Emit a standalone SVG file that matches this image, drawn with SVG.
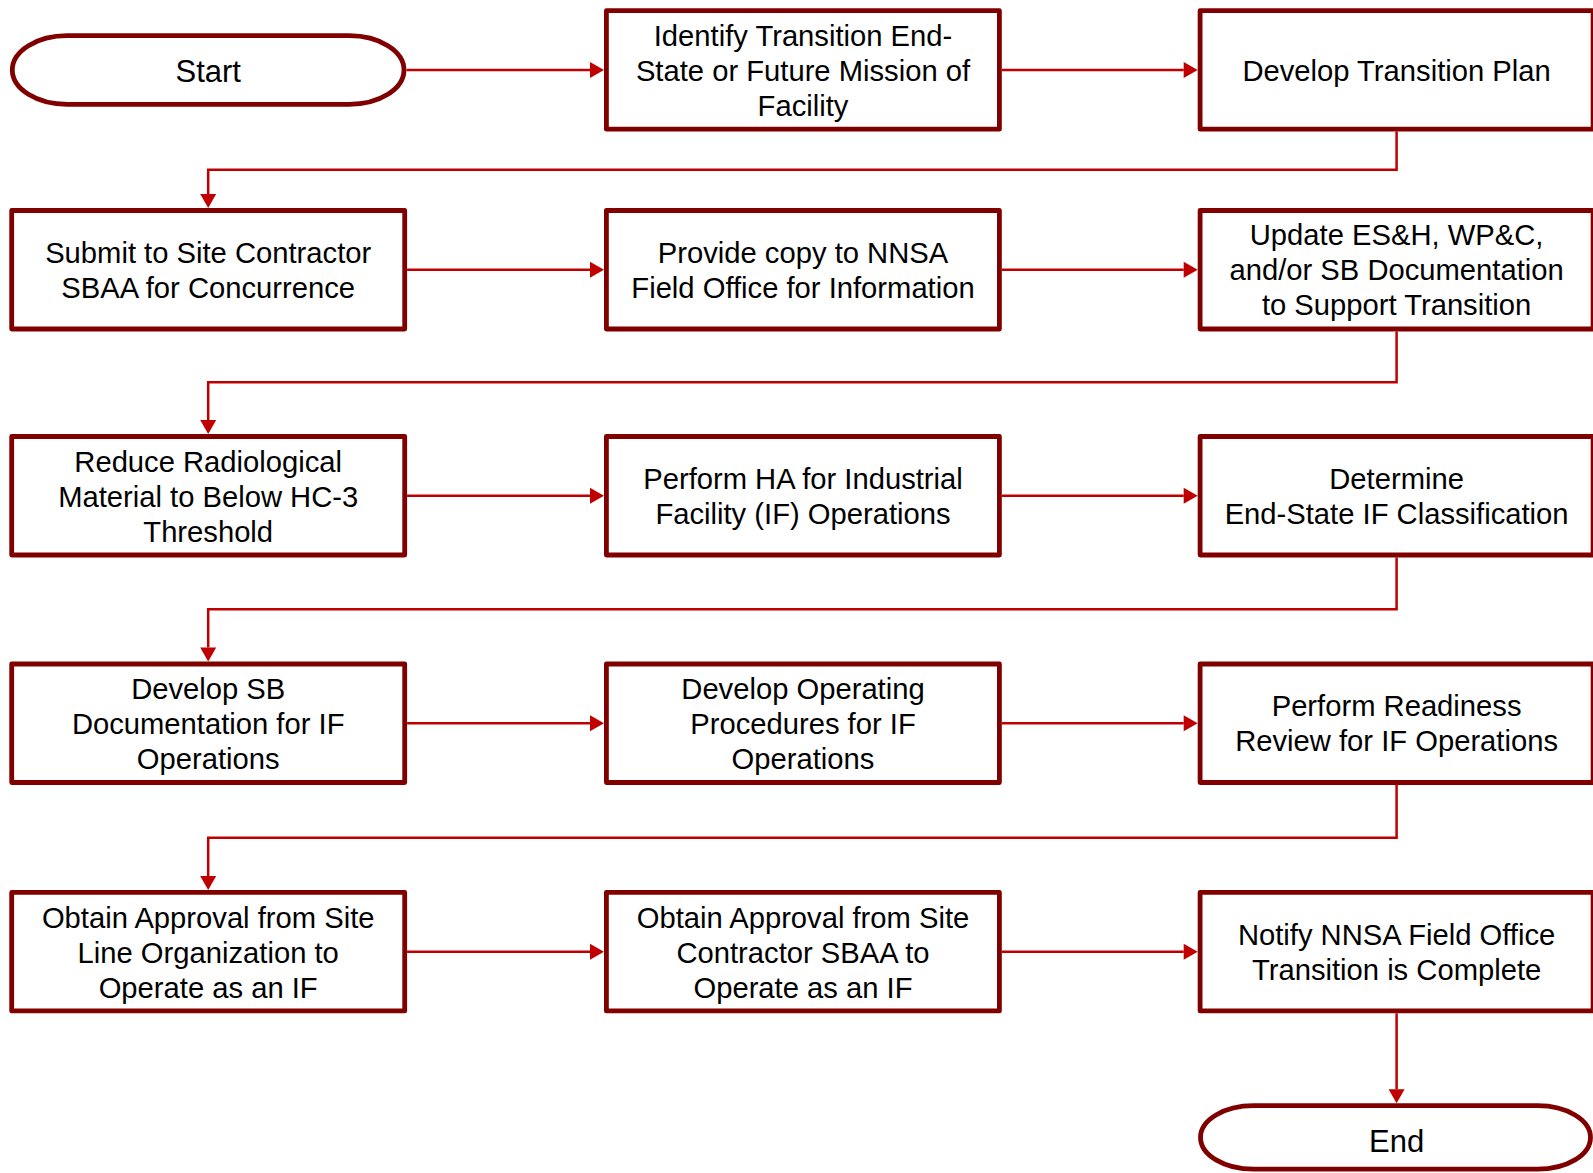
<svg xmlns="http://www.w3.org/2000/svg" width="1593" height="1173" viewBox="0 0 1593 1173">
<style>
.box{fill:#fff;stroke:#800000;stroke-width:4.8;stroke-linejoin:round}
.t{font-family:"Liberation Sans",Arial,sans-serif;font-size:29.2px;fill:#000;text-anchor:middle}
.tt{font-family:"Liberation Sans",Arial,sans-serif;font-size:31px;fill:#000;text-anchor:middle}
.c{fill:none;stroke:#C00000;stroke-width:2.5}
</style>
<defs>
<marker id="ah" markerUnits="userSpaceOnUse" markerWidth="14" markerHeight="16" refX="0" refY="8" orient="auto" overflow="visible">
<path d="M0,0 L14,8 L0,16 z" fill="#C00000"/>
</marker>
</defs>
<rect width="1593" height="1173" fill="#fff"/>
<g id="connectors">
<path class="c" d="M406.5,70 H590" marker-end="url(#ah)"/>
<path class="c" d="M1001.8,70 H1183.7" marker-end="url(#ah)"/>
<path class="c" d="M1396.6,131.6 V169.7 H208.2 V194.1" marker-end="url(#ah)"/>
<path class="c" d="M407.1,269.8 H590" marker-end="url(#ah)"/>
<path class="c" d="M1001.8,269.8 H1183.7" marker-end="url(#ah)"/>
<path class="c" d="M1396.6,331.4 V382.3 H208.2 V420.1" marker-end="url(#ah)"/>
<path class="c" d="M407.1,495.8 H590" marker-end="url(#ah)"/>
<path class="c" d="M1001.8,495.8 H1183.7" marker-end="url(#ah)"/>
<path class="c" d="M1396.6,557.4 V609.3 H208.2 V647.6" marker-end="url(#ah)"/>
<path class="c" d="M407.1,723.3 H590" marker-end="url(#ah)"/>
<path class="c" d="M1001.8,723.3 H1183.7" marker-end="url(#ah)"/>
<path class="c" d="M1396.6,784.9 V837.7 H208.2 V876" marker-end="url(#ah)"/>
<path class="c" d="M407.1,951.7 H590" marker-end="url(#ah)"/>
<path class="c" d="M1001.8,951.7 H1183.7" marker-end="url(#ah)"/>
<path class="c" d="M1396.6,1013.3 V1089.3" marker-end="url(#ah)"/>
</g>
<g id="start">
<rect class="box" x="12.3" y="35.7" width="391.7" height="68.6" rx="55" ry="34.3"/>
<text class="tt" x="208.2" y="81.5">Start</text>
</g>
<g id="identify">
<rect class="box" x="606.4" y="10.7" width="393" height="118.5"/>
<text class="t" x="803" y="46.3">Identify Transition End-</text>
<text class="t" x="803" y="81.3">State or Future Mission of</text>
<text class="t" x="803" y="116.3">Facility</text>
</g>
<g id="develop-plan">
<rect class="box" x="1200.1" y="10.7" width="393" height="118.5"/>
<text class="t" x="1396.6" y="80.8">Develop Transition Plan</text>
</g>
<g id="submit">
<rect class="box" x="11.7" y="210.5" width="393" height="118.5"/>
<text class="t" x="208.2" y="263.3">Submit to Site Contractor</text>
<text class="t" x="208.2" y="298.3">SBAA for Concurrence</text>
</g>
<g id="provide">
<rect class="box" x="606.4" y="210.5" width="393" height="118.5"/>
<text class="t" x="803" y="263.3">Provide copy to NNSA</text>
<text class="t" x="803" y="298.3">Field Office for Information</text>
</g>
<g id="update">
<rect class="box" x="1200.1" y="210.5" width="393" height="118.5"/>
<text class="t" x="1396.6" y="245.3">Update ES&amp;H, WP&amp;C,</text>
<text class="t" x="1396.6" y="280.3">and/or SB Documentation</text>
<text class="t" x="1396.6" y="315.3">to Support Transition</text>
</g>
<g id="reduce">
<rect class="box" x="11.7" y="436.5" width="393" height="118.5"/>
<text class="t" x="208.2" y="471.6">Reduce Radiological</text>
<text class="t" x="208.2" y="506.6">Material to Below HC-3</text>
<text class="t" x="208.2" y="541.6">Threshold</text>
</g>
<g id="perform-ha">
<rect class="box" x="606.4" y="436.5" width="393" height="118.5"/>
<text class="t" x="803" y="488.6">Perform HA for Industrial</text>
<text class="t" x="803" y="523.6">Facility (IF) Operations</text>
</g>
<g id="determine">
<rect class="box" x="1200.1" y="436.5" width="393" height="118.5"/>
<text class="t" x="1396.6" y="488.6">Determine</text>
<text class="t" x="1396.6" y="523.6">End-State IF Classification</text>
</g>
<g id="develop-sb">
<rect class="box" x="11.7" y="664" width="393" height="118.5"/>
<text class="t" x="208.2" y="699.3">Develop SB</text>
<text class="t" x="208.2" y="734.3">Documentation for IF</text>
<text class="t" x="208.2" y="769.3">Operations</text>
</g>
<g id="develop-op">
<rect class="box" x="606.4" y="664" width="393" height="118.5"/>
<text class="t" x="803" y="699.3">Develop Operating</text>
<text class="t" x="803" y="734.3">Procedures for IF</text>
<text class="t" x="803" y="769.3">Operations</text>
</g>
<g id="readiness">
<rect class="box" x="1200.1" y="664" width="393" height="118.5"/>
<text class="t" x="1396.6" y="716.3">Perform Readiness</text>
<text class="t" x="1396.6" y="751.3">Review for IF Operations</text>
</g>
<g id="approval-line">
<rect class="box" x="11.7" y="892.4" width="393" height="118.5"/>
<text class="t" x="208.2" y="928.2">Obtain Approval from Site</text>
<text class="t" x="208.2" y="963.2">Line Organization to</text>
<text class="t" x="208.2" y="998.2">Operate as an IF</text>
</g>
<g id="approval-sbaa">
<rect class="box" x="606.4" y="892.4" width="393" height="118.5"/>
<text class="t" x="803" y="928.2">Obtain Approval from Site</text>
<text class="t" x="803" y="963.2">Contractor SBAA to</text>
<text class="t" x="803" y="998.2">Operate as an IF</text>
</g>
<g id="notify">
<rect class="box" x="1200.1" y="892.4" width="393" height="118.5"/>
<text class="t" x="1396.6" y="945.2">Notify NNSA Field Office</text>
<text class="t" x="1396.6" y="980.2">Transition is Complete</text>
</g>
<g id="end">
<rect class="box" x="1200.5" y="1105.7" width="390" height="63.5" rx="53" ry="31.75"/>
<text class="tt" x="1396.6" y="1151.5">End</text>
</g>
</svg>
